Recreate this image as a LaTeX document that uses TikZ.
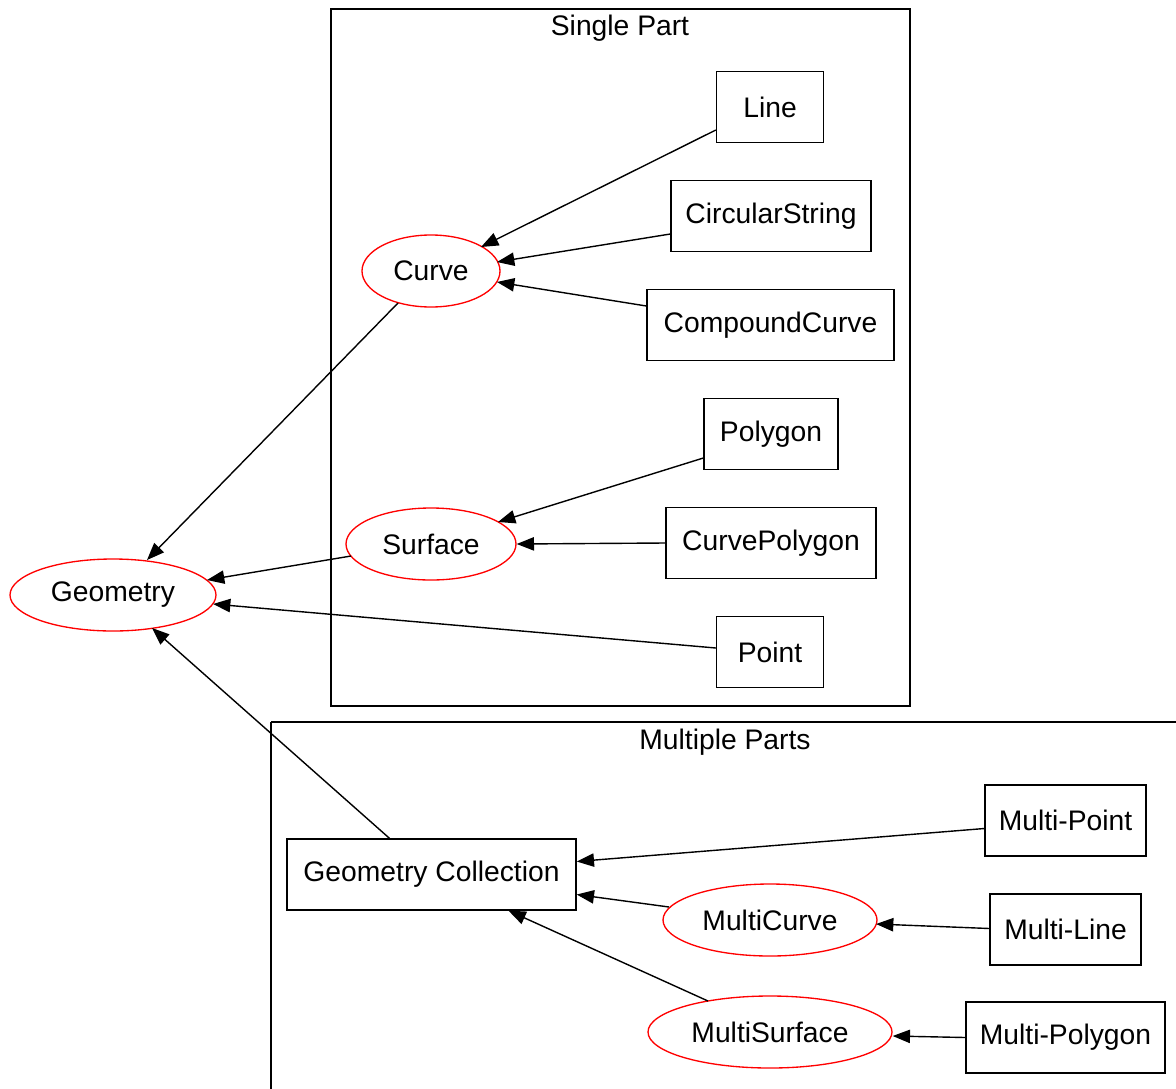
\documentclass[tikz,border=0pt]{standalone}
\usepackage{fontspec}
\setmainfont{Liberation Sans}
\usetikzlibrary{shapes.geometric,arrows.meta,calc}
\begin{document}
\begin{tikzpicture}[x=0.75pt,y=-0.75pt,
  every node/.style={font=\fontsize{21.2}{25}\selectfont},
  typebox/.style={draw=black,line width=1pt,rectangle,inner sep=0pt,minimum height=53.25pt},
  abstract/.style={draw=red,line width=1pt,ellipse,inner sep=0pt,minimum height=54pt},
  cluster/.style={draw=black,line width=1pt},
  inherit/.style={draw=black,line width=1.05pt,-{Triangle[length=13pt,width=10pt]}}]
\useasboundingbox (0,0) rectangle (1176,1088);

% clusters
\draw[cluster] (331,9) rectangle (910,706);
\node (singlelbl) at (620,28) {Single Part};
\draw[cluster] (271,722) -- (1190,722);
\draw[cluster] (271,722) -- (271,1100);
\node (multilbl) at (725,742) {Multiple Parts};

% single-part types
\node[typebox,minimum width=80.25pt]  (line)   at (770,107) {Line};
\node[typebox,minimum width=150pt]    (cstr)   at (771,216) {CircularString};
\node[typebox,minimum width=185.25pt] (ccurve) at (770.5,325) {CompoundCurve};
\node[typebox,minimum width=100.5pt]  (poly)   at (771,434) {Polygon};
\node[typebox,minimum width=157.5pt]  (cpoly)  at (771,543) {CurvePolygon};
\node[typebox,minimum width=80.25pt]  (point)  at (770,652) {Point};

\node[abstract,minimum width=103.5pt] (curve)   at (431,271) {Curve};
\node[abstract,minimum width=127.5pt] (surface) at (431,544) {Surface};
\node[abstract,minimum width=154.5pt] (geom)    at (113,595) {Geometry};

% multi-part types
\node[typebox,minimum width=216.75pt] (gc)    at (431.5,874.5) {Geometry Collection};
\node[typebox,minimum width=120.75pt] (mpt)   at (1065.5,820.5) {Multi-Point};
\node[typebox,minimum width=113.25pt] (mline) at (1065.5,929.5) {Multi-Line};
\node[typebox,minimum width=149.25pt] (mpoly) at (1065.5,1037.5) {Multi-Polygon};
\node[abstract,minimum width=160.5pt] (mcurve) at (770,920) {MultiCurve};
\node[abstract,minimum width=183pt]   (msurf)  at (770,1032) {MultiSurface};

% inheritance edges
\draw[inherit] ($(line.west)+(0,23)$)   -- ($(curve)+(50,-24)$);
\draw[inherit] ($(cstr.west)+(0,18)$)   -- ($(curve)+(66,-9)$);
\draw[inherit] ($(ccurve.west)+(0,-19)$) -- ($(curve)+(66,11)$);
\draw[inherit] ($(curve)+(-33,32)$)     -- ($(geom)+(34,-35)$);
\draw[inherit] ($(poly.west)+(0,24)$)   -- ($(surface)+(67,-22)$);
\draw[inherit] (cpoly.west)             -- (surface.east);
\draw[inherit] ($(surface)+(-80,12)$)   -- ($(geom)+(94,-15)$);
\draw[inherit] ($(point.west)+(0,-4)$)  -- ($(geom)+(100,9)$);
\draw[inherit] ($(gc.north)+(-42,0)$)   -- ($(geom)+(39,33)$);
\draw[inherit] ($(mpt.west)+(0,8)$)     -- ($(gc.east)+(0,-13)$);
\draw[inherit] ($(mcurve)+(-101,-13)$)  -- ($(gc.east)+(0,20)$);
\draw[inherit] ($(msurf)+(-62,-31)$)    -- ($(gc.south)+(77,0)$);
\draw[inherit] ($(mline.west)+(0,-1)$)  -- ($(mcurve)+(106,4)$);
\draw[inherit] (mpoly.west)             -- ($(msurf.east)+(0,4)$);
\end{tikzpicture}
\end{document}
